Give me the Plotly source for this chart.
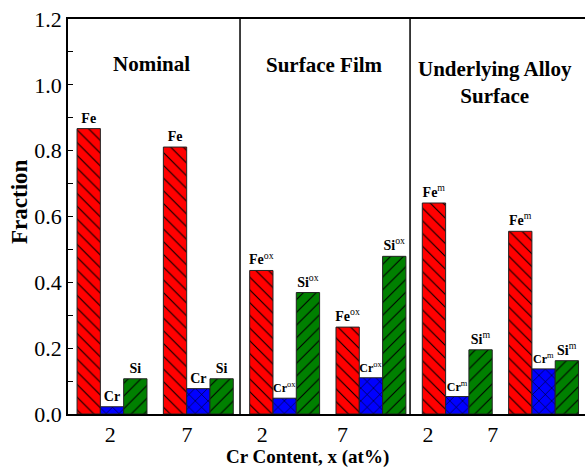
import plotly.graph_objects as go

# ---- data ----
group_pos = [0, 1, 2, 3, 4, 5]          # six sample groups (2, 7 at%, per section)
fe_vals = [0.867, 0.811, 0.436, 0.264, 0.641, 0.555]
cr_vals = [0.022, 0.077, 0.048, 0.110, 0.053, 0.137]
si_vals = [0.107, 0.107, 0.369, 0.479, 0.195, 0.162]
fe_text = ["Fe", "Fe", "Fe<sup>ox</sup>", "Fe<sup>ox</sup>", "Fe<sup>m</sup>", "Fe<sup>m</sup>"]
cr_text = ["Cr", "Cr", "Cr<sup>ox</sup>", "Cr<sup>ox</sup>", "Cr<sup>m</sup>", "Cr<sup>m</sup>"]
si_text = ["Si", "Si", "Si<sup>ox</sup>", "Si<sup>ox</sup>", "Si<sup>m</sup>", "Si<sup>m</sup>"]
tick_labels = ["2", "7", "2", "7", "2", "7"]
tick_pos = [-0.02, 0.87, 1.74, 2.67, 3.66, 4.41]
sections = ["Nominal", "Surface Film", "Underlying Alloy<br>Surface"]
section_x = [0.46, 2.46, 4.44]
section_y = [1.062, 1.059, 1.008]
separators = [1.483, 3.453]

FONT = "Liberation Serif"

def bold(lst):
    out = []
    for t in lst:
        if "<sup>" in t:
            a, b = t.split("<sup>")
            out.append("<b>" + a + "</b><sup>" + b)
        else:
            out.append("<b>" + t + "</b>")
    return out

fig = go.Figure()
specs = [
    (fe_vals, fe_text, "#ff0000", "\\", [14, 14, 14, 14, 14, 14]),
    (cr_vals, cr_text, "#0000ff", "x", [14, 14, 12, 12, 12, 12]),
    (si_vals, si_text, "#008000", "/", [14, 14, 14, 14, 14, 14]),
]
for vals, txt, col, shp, fs in specs:
    fig.add_trace(go.Bar(
        x=group_pos, y=vals, text=bold(txt), textposition="outside",
        constraintext="none", cliponaxis=False,
        textfont=dict(family=FONT, size=fs, color="black"),
        marker=dict(color=col, line=dict(color="#222222", width=1),
                    pattern=dict(shape=shp, fgcolor="black", bgcolor=col,
                                 size=9, solidity=0.12, fillmode="replace")),
        showlegend=False, hoverinfo="skip",
    ))

for s, sx, sy in zip(sections, section_x, section_y):
    fig.add_annotation(x=sx, y=sy, xref="x", yref="y", text="<b>" + s + "</b>",
                       showarrow=False, font=dict(family=FONT, size=21, color="black"),
                       xanchor="center", yanchor="middle")

for xs in separators:
    fig.add_shape(type="line", x0=xs, x1=xs, y0=0, y1=1.2, xref="x", yref="y",
                  line=dict(color="black", width=1.5))

fig.add_annotation(x=0.463, y=-0.109, xref="paper", yref="paper",
                   text="<b>Cr Content, x (at%)</b>", showarrow=False,
                   font=dict(family=FONT, size=19, color="black"),
                   xanchor="center", yanchor="middle")
fig.add_annotation(x=-0.095, y=0.539, xref="paper", yref="paper",
                   text="<b>Fraction</b>", showarrow=False, textangle=-90,
                   font=dict(family=FONT, size=23, color="black"),
                   xanchor="center", yanchor="middle")

fig.update_layout(
    width=585, height=473,
    margin=dict(l=68, r=0, t=19, b=59),
    paper_bgcolor="white", plot_bgcolor="white",
    barmode="group", bargap=0.19, bargroupgap=0,
    font=dict(family=FONT, color="black"),
)
fig.update_xaxes(
    range=[-0.51, 5.48], tickmode="array", tickvals=tick_pos, ticktext=tick_labels,
    ticks="", showgrid=False, zeroline=False,
    showline=True, linecolor="black", linewidth=1.5, mirror=True,
    tickfont=dict(family=FONT, size=22, color="black"),
)
fig.update_yaxes(
    range=[0, 1.2], dtick=0.2, tickformat=".1f", ticks="inside", ticklen=5,
    tickwidth=1, tickcolor="black",
    minor=dict(dtick=0.1, ticks="inside", ticklen=5, tickcolor="black", tickwidth=1),
    showgrid=False, zeroline=False,
    showline=True, linecolor="black", linewidth=1.5, mirror=False,
    tickfont=dict(family=FONT, size=22, color="black"),
)

fig.write_html("out.html")
